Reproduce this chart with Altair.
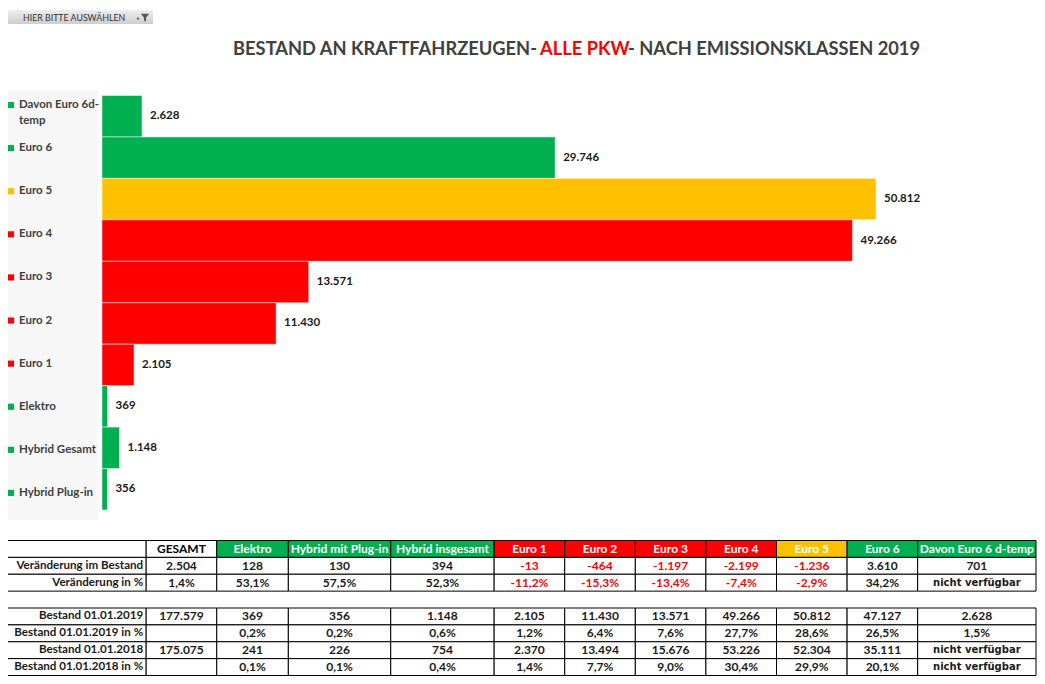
import altair as alt
import pandas as pd

# ---------------- data ----------------
categories = ["Davon Euro 6d-temp", "Euro 6", "Euro 5", "Euro 4", "Euro 3",
              "Euro 2", "Euro 1", "Elektro", "Hybrid Gesamt", "Hybrid Plug-in"]
category_labels = ["Davon Euro 6d-\ntemp", "Euro 6", "Euro 5", "Euro 4", "Euro 3",
                   "Euro 2", "Euro 1", "Elektro", "Hybrid Gesamt", "Hybrid Plug-in"]
bar_values = [2628, 29746, 50812, 49266, 13571, 11430, 2105, 369, 1148, 356]
bar_colors = ["#00B050", "#00B050", "#FFC000", "#FF0000", "#FF0000",
              "#FF0000", "#FF0000", "#00B050", "#00B050", "#00B050"]

title_left = "BESTAND AN KRAFTFAHRZEUGEN-"
title_red = "ALLE PKW"
title_right = "- NACH EMISSIONSKLASSEN 2019"
button_text = "HIER BITTE AUSWÄHLEN"

table_columns = ["GESAMT", "Elektro", "Hybrid mit Plug-in", "Hybrid insgesamt",
                 "Euro 1", "Euro 2", "Euro 3", "Euro 4", "Euro 5", "Euro 6",
                 "Davon Euro 6 d-temp"]
header_colors = ["#FFFFFF", "#00B050", "#00B050", "#00B050", "#FF0000", "#FF0000",
                 "#FF0000", "#FF0000", "#FFC000", "#00B050", "#00B050"]
header_text_colors = ["#000000"] + ["#FFFFFF"] * 10

row_labels = ["Veränderung im Bestand", "Veränderung in %", "",
              "Bestand 01.01.2019", "Bestand 01.01.2019 in %",
              "Bestand 01.01.2018", "Bestand 01.01.2018 in %"]
row_change_abs = ["2.504", "128", "130", "394", "-13", "-464", "-1.197", "-2.199",
                  "-1.236", "3.610", "701"]
row_change_pct = ["1,4%", "53,1%", "57,5%", "52,3%", "-11,2%", "-15,3%", "-13,4%",
                  "-7,4%", "-2,9%", "34,2%", "nicht verfügbar"]
row_2019 = ["177.579", "369", "356", "1.148", "2.105", "11.430", "13.571", "49.266",
            "50.812", "47.127", "2.628"]
row_2019_pct = ["", "0,2%", "0,2%", "0,6%", "1,2%", "6,4%", "7,6%", "27,7%",
                "28,6%", "26,5%", "1,5%"]
row_2018 = ["175.075", "241", "226", "754", "2.370", "13.494", "15.676", "53.226",
            "52.304", "35.111", "nicht verfügbar"]
row_2018_pct = ["", "0,1%", "0,1%", "0,4%", "1,4%", "7,7%", "9,0%", "30,4%",
                "29,9%", "20,1%", "nicht verfügbar"]
table_rows = [row_change_abs, row_change_pct, None, row_2019, row_2019_pct,
              row_2018, row_2018_pct]
red_text_rows = [0, 1]
red_text_cols = [4, 5, 6, 7, 8]

# ---------------- layout ----------------
W, H = 1029, 668
FONT = "Lato"
DARK = "#404040"

col_widths = [144, 71, 72, 103, 104, 71, 71, 71, 71, 71, 71, 119]


def de(v):
    return f"{v:,}".replace(",", ".")


bars = pd.DataFrame({
    "cat": categories,
    "disp": category_labels,
    "value": bar_values,
    "color": bar_colors,
    "label": [de(v) for v in bar_values],
})

cat_scale = alt.Scale(domain=categories, range=[87.5, 502], paddingInner=0, paddingOuter=0)
lab_scale = alt.Scale(domain=categories, range=[75.5, 506.5], paddingInner=0, paddingOuter=0)
val_scale = alt.Scale(domain=[0, 60000], range=[94, 1008])

panel = alt.Chart(bars).mark_rect(color="#f7f7f7").encode(
    x=alt.value(0), x2=alt.value(90), y=alt.value(82), y2=alt.value(512))

bar_layer = alt.Chart(bars).mark_bar(stroke="#ffffff", strokeWidth=0.8, strokeOpacity=0.6).encode(
    y=alt.Y("cat:N", scale=cat_scale, axis=None, sort=categories),
    x=alt.X("value:Q", scale=val_scale, axis=None),
    color=alt.Color("color:N", scale=None),
)

value_labels = alt.Chart(bars).mark_text(
    align="left", baseline="middle", dx=8, font=FONT, fontWeight="bold",
    fontSize=11.5, color="#1a1a1a").encode(
    y=alt.Y("cat:N", scale=cat_scale, axis=None, sort=categories),
    x=alt.X("value:Q", scale=val_scale, axis=None),
    text="label:N",
)

squares = alt.Chart(bars).mark_square(size=38, opacity=1).encode(
    y=alt.Y("cat:N", scale=lab_scale, axis=None, sort=categories),
    x=alt.value(3),
    color=alt.Color("color:N", scale=None),
)

cat_labels = alt.Chart(bars).mark_text(
    align="left", baseline="middle", font=FONT, fontWeight="bold", fontSize=11.5,
    color=DARK, lineBreak="\n", lineHeight=16).encode(
    y=alt.Y("cat:N", scale=lab_scale, axis=None, sort=categories),
    x=alt.value(11),
    text="disp:N",
)

# title (three coloured pieces)
tdf = pd.DataFrame({"t": [title_left, title_red, title_right]})
TS = 18.3
t_left = alt.Chart(tdf.iloc[[0]]).mark_text(
    align="right", baseline="middle", font=FONT, fontWeight="bold", fontSize=TS,
    color=DARK).encode(text="t:N", x=alt.value(529), y=alt.value(42))
t_red = alt.Chart(tdf.iloc[[1]]).mark_text(
    align="left", baseline="middle", font=FONT, fontWeight="bold", fontSize=TS,
    color="#FF0000").encode(text="t:N", x=alt.value(532), y=alt.value(42))
t_right = alt.Chart(tdf.iloc[[2]]).mark_text(
    align="left", baseline="middle", font=FONT, fontWeight="bold", fontSize=TS,
    color=DARK).encode(text="t:N", x=alt.value(620), y=alt.value(42))

# filter button
bdf = pd.DataFrame({"t": [button_text]})
btn_bg = alt.Chart(bdf).mark_rect(
    fill=alt.LinearGradient(gradient="linear",
                            stops=[alt.GradientStop(color="#efefef", offset=0),
                                   alt.GradientStop(color="#cdcdcd", offset=1)],
                            x1=0, x2=0, y1=0, y2=1)).encode(
    x=alt.value(0), x2=alt.value(145), y=alt.value(2), y2=alt.value(16))
btn_txt = alt.Chart(bdf).mark_text(
    align="left", baseline="middle", font=FONT, fontSize=8.8, color="#333333").encode(
    text="t:N", x=alt.value(15), y=alt.value(9.5))
btn_arrow = alt.Chart(bdf).mark_point(shape="triangle-down", filled=True, size=10,
                                      color="#555555", opacity=1).encode(
    x=alt.value(130), y=alt.value(11))
btn_funnel = alt.Chart(bdf).mark_point(
    shape="M-1,-0.9L1,-0.9L0.25,0L0.25,0.95L-0.25,0.7L-0.25,0Z",
    filled=True, size=70, color="#555555", opacity=1).encode(
    x=alt.value(137), y=alt.value(9.5))

# ---------------- table ----------------
edges = [0]
for w in col_widths:
    edges.append(edges[-1] + w)

cells = []
texts = []
for c in range(12):
    fill = "#FFFFFF" if c == 0 else header_colors[c - 1]
    cells.append({"x0": edges[c], "x1": edges[c + 1], "y0": 0, "y1": 1, "fill": fill})
    if c > 0:
        texts.append({"x": (edges[c] + edges[c + 1]) / 2, "y": 0.5,
                      "t": table_columns[c - 1], "col": header_text_colors[c - 1],
                      "kind": "head"})
for i, row in enumerate(table_rows):
    r = i + 1
    if row is None:
        continue
    for c in range(12):
        cells.append({"x0": edges[c], "x1": edges[c + 1], "y0": r, "y1": r + 1,
                      "fill": "#FFFFFF"})
    texts.append({"x": edges[1] - 3, "y": r + 0.5, "t": row_labels[i],
                  "col": "#1a1a1a", "kind": "rowlab"})
    for j, v in enumerate(row):
        c = j + 1
        col = "#FF0000" if (i in red_text_rows and j in red_text_cols) else "#1a1a1a"
        kind = "na" if v == "nicht verfügbar" else "val"
        texts.append({"x": (edges[c] + edges[c + 1]) / 2, "y": r + 0.5, "t": v,
                      "col": col, "kind": kind})

cells_df = pd.DataFrame(cells)
texts_df = pd.DataFrame(texts)

tx_scale = alt.Scale(domain=[0, edges[-1]], range=[-5, 1028])
ty_scale = alt.Scale(domain=[0, 8], range=[532.5, 667.5])

cell_layer = alt.Chart(cells_df).mark_rect(stroke="#000000", strokeWidth=1).encode(
    x=alt.X("x0:Q", scale=tx_scale, axis=None), x2="x1:Q",
    y=alt.Y("y0:Q", scale=ty_scale, axis=None), y2="y1:Q",
    fill=alt.Fill("fill:N", scale=None),
)


def tlayer(kind, align, font=FONT, size=12):
    return alt.Chart(texts_df[texts_df.kind == kind]).mark_text(
        align=align, baseline="middle", font=font, fontWeight="bold", fontSize=size).encode(
        x=alt.X("x:Q", scale=tx_scale, axis=None),
        y=alt.Y("y:Q", scale=ty_scale, axis=None),
        text="t:N",
        color=alt.Color("col:N", scale=None),
    )


head_txt = tlayer("head", "center", size=12)
row_txt = tlayer("rowlab", "right", size=11.6)
val_txt = tlayer("val", "center", size=12)
na_txt = tlayer("na", "center", font="DejaVu Sans", size=10)

chart = alt.layer(
    panel, bar_layer, value_labels, squares, cat_labels,
    t_left, t_red, t_right,
    btn_bg, btn_txt, btn_arrow, btn_funnel,
    cell_layer, head_txt, row_txt, val_txt, na_txt,
).resolve_scale(
    x="independent", y="independent", color="independent", fill="independent"
).properties(
    width=W, height=H, padding=0, background="#ffffff",
    autosize=alt.AutoSizeParams(type="none"),
).configure_view(stroke=None)

chart.save("out.html", embed_options={"renderer": "svg", "actions": False})
